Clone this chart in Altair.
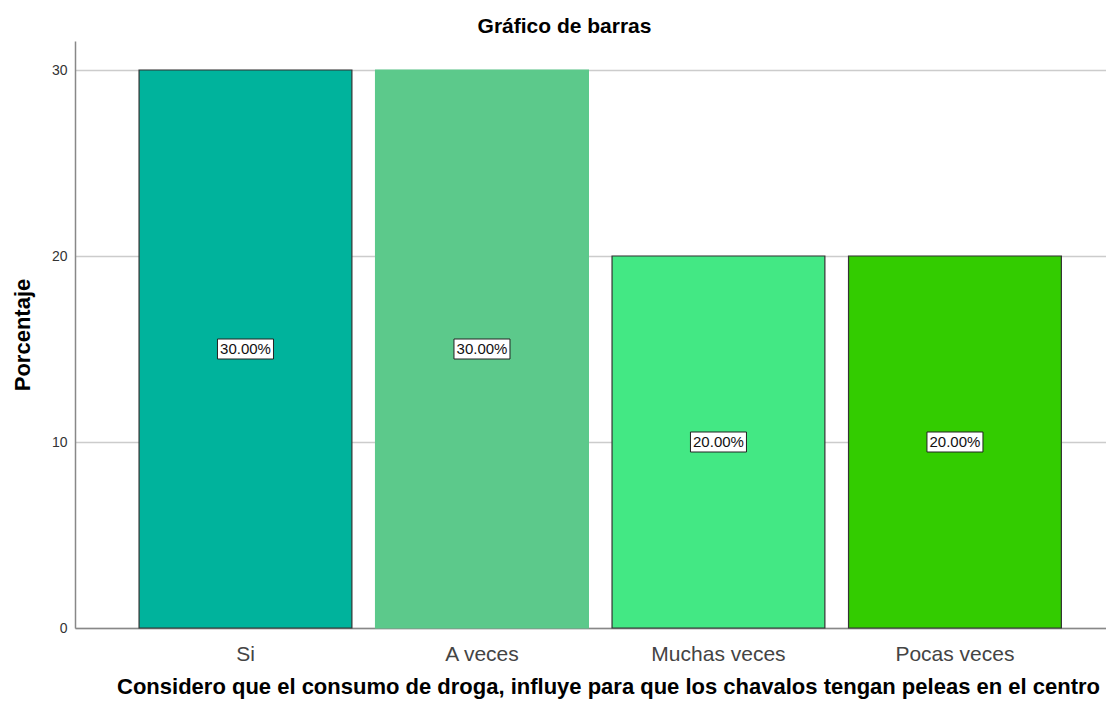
import altair as alt
import pandas as pd

categories = ["Si", "A veces", "Muchas veces", "Pocas veces"]
values = [30.0, 30.0, 20.0, 20.0]
labels = ["30.00%", "30.00%", "20.00%", "20.00%"]
colors = ["#00B39C", "#5CC98B", "#43E884", "#33CC00"]
strokes = ["#333333", "#5CC98B", "#333333", "#333333"]

df = pd.DataFrame({"cat": categories, "val": values, "lab": labels,
                   "col": colors, "stk": strokes})
df["mid"] = df["val"] / 2

FONT = "Liberation Sans"

xscale = alt.Scale(domain=categories, paddingInner=0.1, paddingOuter=0.2467, align=0.549)
yscale = alt.Scale(domain=[0, 31.56], nice=False, zero=True)

x = alt.X("cat:N", scale=xscale, sort=categories,
          title="Considero que el consumo de droga, influye para que los chavalos tengan peleas en el centro",
          axis=alt.Axis(labelAngle=0, labelFontSize=21, labelColor="#444444", labelFont=FONT,
                        labelPadding=15, ticks=False, domainColor="#888888", domainWidth=1.5,
                        titleFont=FONT, titleFontSize=22, titleFontWeight="bold",
                        titleColor="#000000", titleX=533, titleY=65,
                        titleBaseline="alphabetic", titleAlign="center"))

bars = alt.Chart(df).mark_bar(strokeWidth=1.2).encode(
    x=x,
    y=alt.Y("val:Q", scale=yscale, title="Porcentaje",
            axis=alt.Axis(values=[0, 10, 20, 30], ticks=False, labelFontSize=14, labelFont=FONT,
                          labelColor="#333333", labelPadding=8, domainColor="#888888",
                          domainWidth=1.5, gridColor="#CCCCCC", gridWidth=1.5,
                          titleFont=FONT, titleFontSize=22, titleFontWeight="bold",
                          titleColor="#000000", titlePadding=17)),
    color=alt.Color("col:N", scale=None),
    stroke=alt.Stroke("stk:N", scale=None),
)

boxes = alt.Chart(df).mark_point(
    shape="M-2.8,-1 L2.8,-1 L2.8,1 L-2.8,1 Z", size=400, filled=True,
    fill="white", stroke="#222222", strokeWidth=1, opacity=1
).encode(x=alt.X("cat:N", scale=xscale, sort=categories), y=alt.Y("mid:Q", scale=yscale))

texts = alt.Chart(df).mark_text(font=FONT, fontSize=15, color="#111111").encode(
    x=alt.X("cat:N", scale=xscale, sort=categories), y=alt.Y("mid:Q", scale=yscale),
    text="lab:N")

chart = alt.layer(bars, boxes, texts).properties(
    width=1039, height=587,
    title=alt.TitleParams("Gráfico de barras", font=FONT, fontSize=21, fontWeight="bold",
                          color="#000000", offset=4, dx=-30),
    autosize="none",
    padding={"left": 67, "top": 33, "right": -8, "bottom": 73},
).configure_view(stroke=None)

chart.save("out.html", embed_options={"renderer": "svg", "actions": False})
